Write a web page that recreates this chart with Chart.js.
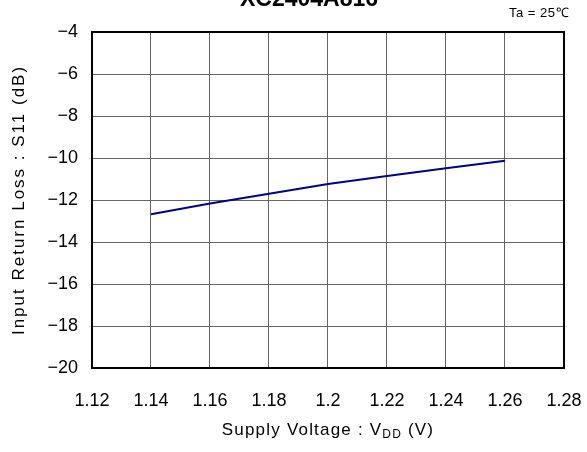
<!DOCTYPE html>
<html>
<head>
<meta charset="utf-8">
<script src="https://cdn.jsdelivr.net/npm/chart.js@4/dist/chart.umd.min.js"></script>
<style>
  html, body { margin: 0; padding: 0; background: #fff; }
  #wrap { width: 587px; height: 452px; }
</style>
</head>
<body>
<div id="wrap"><canvas id="c" width="587" height="452"></canvas></div>
<script>
// ---- data ----
const chartTitle = "XC2404A816";
const condition = "Ta = 25\u2103";
const xAxisLabelMain = "Supply Voltage : V";
const xAxisLabelSub = "DD";
const xAxisLabelTail = " (V)";
const yAxisLabel = "Input Return Loss : S11 (dB)";
const vdd = [1.14, 1.16, 1.18, 1.20, 1.22, 1.24, 1.26];
const s11 = [-12.68, -12.17, -11.70, -11.24, -10.86, -10.49, -10.13];
const xTicks = [1.12, 1.14, 1.16, 1.18, 1.20, 1.22, 1.24, 1.26, 1.28];
const yTicks = [-20, -18, -16, -14, -12, -10, -8, -6, -4];

const FONT = '"Liberation Sans", Arial, sans-serif';

const decor = {
  id: 'decor',
  afterDraw(chart) {
    const ctx = chart.ctx;
    const a = chart.chartArea;
    ctx.save();
    // frame
    ctx.strokeStyle = '#000';
    ctx.lineWidth = 2;
    ctx.strokeRect(a.left, a.top, a.right - a.left, a.bottom - a.top);
    // title (mostly cropped at top)
    ctx.fillStyle = '#000';
    ctx.font = 'bold 23px ' + FONT;
    ctx.textAlign = 'center';
    ctx.textBaseline = 'alphabetic';
    ctx.fillText(chartTitle, 309, 6);
    // condition
    ctx.font = '13px ' + FONT;
    ctx.letterSpacing = '0.5px';
    ctx.textAlign = 'right';
    ctx.fillText(condition, 569, 17);
    // y axis title (rotated)
    ctx.save();
    ctx.font = '17px ' + FONT;
    ctx.letterSpacing = '2px';
    ctx.textAlign = 'center';
    ctx.textBaseline = 'middle';
    ctx.translate(19, (a.top + a.bottom) / 2);
    ctx.rotate(-Math.PI / 2);
    ctx.fillText(yAxisLabel, 0, 0);
    ctx.restore();
    // x axis title with subscript
    const y = 435;
    const mainFont = '17px ' + FONT;
    const subFont = '12px ' + FONT;
    ctx.letterSpacing = '1.2px';
    ctx.font = mainFont;
    const w1 = ctx.measureText(xAxisLabelMain).width;
    const w3 = ctx.measureText(xAxisLabelTail).width;
    ctx.font = subFont;
    const w2 = ctx.measureText(xAxisLabelSub).width;
    const total = w1 + w2 + w3;
    let x = (a.left + a.right) / 2 - total / 2;
    ctx.textAlign = 'left';
    ctx.font = mainFont;
    ctx.fillText(xAxisLabelMain, x, y);
    x += w1;
    ctx.font = subFont;
    ctx.fillText(xAxisLabelSub, x, y + 3);
    x += w2;
    ctx.font = mainFont;
    ctx.fillText(xAxisLabelTail, x, y);
    ctx.restore();
  }
};

const fmtMinus = v => (v < 0 ? '\u2212' + Math.abs(v) : String(v));

new Chart(document.getElementById('c'), {
  type: 'line',
  data: {
    datasets: [{
      data: vdd.map((v, i) => ({ x: v, y: s11[i] })),
      borderColor: '#000080',
      borderWidth: 2,
      pointRadius: 0,
      tension: 0,
      fill: false
    }]
  },
  options: {
    responsive: false,
    animation: false,
    devicePixelRatio: 1,
    layout: { padding: { top: 32, right: 23, left: 0, bottom: 0 } },
    plugins: { legend: { display: false }, tooltip: { enabled: false }, title: { display: false } },
    scales: {
      x: {
        type: 'linear',
        min: 1.12, max: 1.28,
        afterBuildTicks: s => { s.ticks = xTicks.map(v => ({ value: v })); },
        afterFit: s => { s.height = 84; s.paddingLeft = 0; s.paddingRight = 0; },
        grid: { color: '#666', lineWidth: 1, drawTicks: false },
        border: { display: false },
        ticks: {
          padding: 22,
          color: '#000',
          font: { family: FONT, size: 18 },
          maxRotation: 0,
          callback: v => String(Number(v.toFixed(2)))
        }
      },
      y: {
        type: 'linear',
        min: -20, max: -4,
        afterBuildTicks: s => { s.ticks = yTicks.map(v => ({ value: v })); },
        afterFit: s => { s.width = 92; s.paddingTop = 0; s.paddingBottom = 0; },
        grid: { color: '#666', lineWidth: 1, drawTicks: false },
        border: { display: false },
        ticks: {
          padding: 14,
          color: '#000',
          font: { family: FONT, size: 18 },
          callback: v => fmtMinus(v)
        }
      }
    }
  },
  plugins: [decor]
});
</script>
</body>
</html>
